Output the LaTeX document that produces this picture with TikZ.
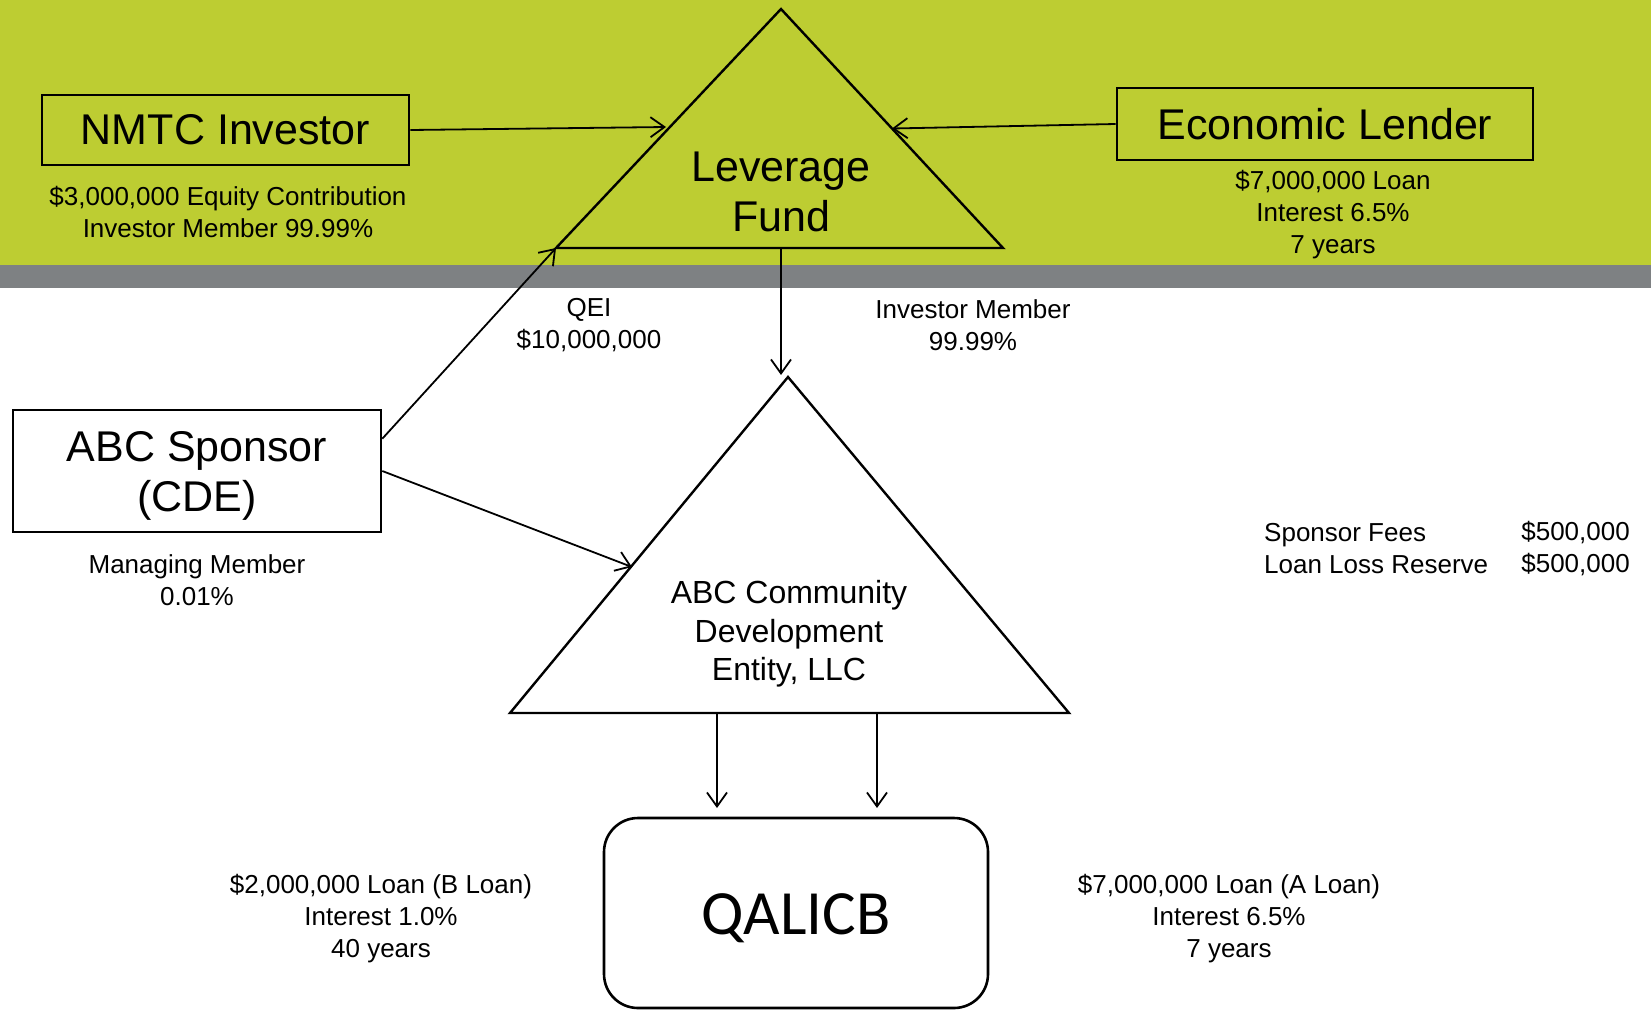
\documentclass[tikz,border=0pt]{standalone}
\usepackage{fontspec}
\setmainfont{Liberation Sans}
\newfontfamily\qalfont{Carlito}
\usetikzlibrary{arrows.meta}
\definecolor{bandgreen}{RGB}{189,205,50}
\definecolor{bandgray}{RGB}{126,129,131}
\newcommand{\smalltext}{\fontsize{26}{32}\selectfont}
\newcommand{\midtext}{\fontsize{32}{38.5}\selectfont}
\newcommand{\bigtext}{\fontsize{43}{50}\selectfont}
\newcommand{\hugetext}{\qalfont\fontsize{63}{70}\selectfont}
\begin{document}
\begin{tikzpicture}[x=1pt,y=-1pt,
  entity/.style={draw, line width=2.6pt, inner sep=0pt, font=\bigtext, align=center},
  title/.style={font=\bigtext, align=center, inner sep=0pt},
  note/.style={font=\smalltext, align=center, inner sep=0pt},
  flow/.style={line width=1.8pt, -{Straight Barb[length=14pt,width=20pt,line width=1.8pt]}},
  tri/.style={line width=2.4pt, line join=miter}]
\useasboundingbox (0,0) rectangle (1651,1010);
\fill[bandgreen] (0,0) rectangle (1651,265);
\fill[bandgray] (0,265) rectangle (1651,288);

% leverage fund
\coordinate (lfTop) at (781,9);
\coordinate (lfLeft) at (556,248);
\coordinate (lfRight) at (1003,248);
\coordinate (lfBase) at (781,248);
\draw[tri] (lfTop) -- (lfLeft) -- (lfRight) -- cycle;
\node[title] (lfText) at (781,192) {Leverage\\Fund};

% community development entity
\coordinate (cdeTop) at (788,377);
\coordinate (cdeLeft) at (510,713);
\coordinate (cdeRight) at (1069,713);
\draw[tri] (cdeTop) -- (cdeLeft) -- (cdeRight) -- cycle;
\node[font=\midtext, align=center, inner sep=0pt] (cdeText) at (789,634) {ABC Community\\Development\\Entity, LLC};

\node[entity, minimum width=367pt, minimum height=70pt] (investor) at (225.5,130) {NMTC Investor};
\node[entity, minimum width=416pt, minimum height=72pt] (lender) at (1325,124) {Economic Lender};
\node[entity, minimum width=368pt, minimum height=122pt] (sponsor) at (197,471) {};
\node[title] (sponsorText) at (197,476) {ABC Sponsor\\(CDE)};
\node[entity, rounded corners=34pt, minimum width=384pt, minimum height=190pt] (qalicb) at (796,913) {};
\node[title, font=\hugetext] (qalicbText) at (796,918) {QALICB};

\node[note] (investorNote) at (228,212) {\$3,000,000 Equity Contribution\\Investor Member 99.99\%};
\node[note] (lenderNote) at (1333,215) {\$7,000,000 Loan\\Interest 6.5\%\\7 years};
\node[note] (qeiNote) at (589,325.5) {QEI\\\$10,000,000};
\node[note] (memberNote) at (973,325.5) {Investor Member\\99.99\%};
\node[note] (managingNote) at (197,580) {Managing Member\\0.01\%};
\node[note] (bLoanNote) at (381,919) {\$2,000,000 Loan (B Loan)\\Interest 1.0\%\\40 years};
\node[note] (aLoanNote) at (1229,919) {\$7,000,000 Loan (A Loan)\\Interest 6.5\%\\7 years};
\node[note, align=left, anchor=west] (feesNote) at (1264,549) {Sponsor Fees\\Loan Loss Reserve};
\node[note, align=right, anchor=east] (feesAmount) at (1630,549) {\$500,000\\\$500,000};

% flows
\coordinate (lfInLeft) at (666,127);
\coordinate (lfInRight) at (892,128.5);
\coordinate (cdeIn) at (632,567);
\coordinate (cdeDown) at (781,375);
\draw[flow] (investor.east) -- (lfInLeft);
\draw[flow] (lender.west) -- (lfInRight);
\draw[flow] ([yshift=-30pt]sponsor.north east) -- (lfLeft);
\draw[flow] (sponsor.east) -- (cdeIn);
\draw[flow] (lfBase) -- (cdeDown);
\foreach \x/\name in {717/qInB,877/qInA}{
  \coordinate (\name) at (\x,808);
  \draw[flow] (\x,713) -- (\name);
}
\end{tikzpicture}
\end{document}
